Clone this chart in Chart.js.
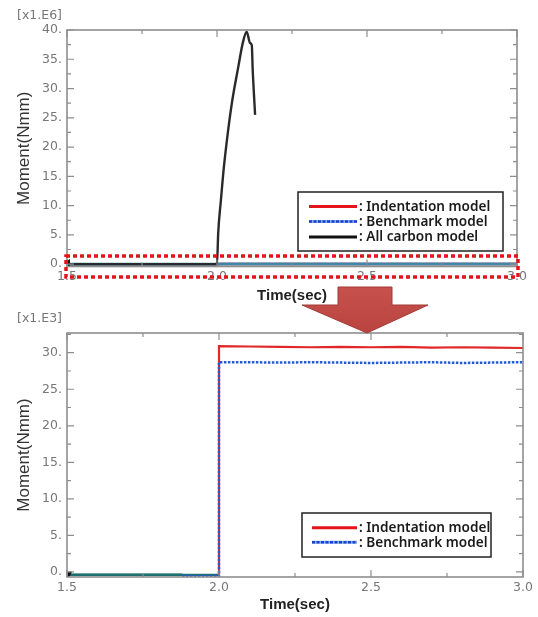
<!DOCTYPE html>
<html>
<head>
<meta charset="utf-8">
<script src="https://cdn.jsdelivr.net/npm/chart.js@4.4.0/dist/chart.umd.min.js"></script>
<style>
  body { margin: 0; background: #fff; }
  #wrap { position: relative; width: 538px; height: 617px; overflow: hidden; }
  canvas { position: absolute; left: 0; }
  #topChart { top: 0; }
  #bottomChart { top: 305px; }
  #arrow { position: absolute; left: 0; top: 0; pointer-events: none; }
</style>
</head>
<body>
<div id="wrap">
  <canvas id="topChart" width="538" height="305"></canvas>
  <canvas id="bottomChart" width="538" height="312"></canvas>
  <!-- the big arrow between the two plots -->
  <svg id="arrow" width="538" height="617">
    <defs>
      <linearGradient id="arrowFill" x1="0" y1="0" x2="0" y2="1">
        <stop offset="0" stop-color="#c6514d"/>
        <stop offset="1" stop-color="#b8433f"/>
      </linearGradient>
    </defs>
    <polygon points="338,287 392,287 392,305 428,305 367,333 302,305 338,305"
             fill="url(#arrowFill)" stroke="#a33a36" stroke-width="1"/>
  </svg>
</div>
<script>
// ---- shared axis values ----
const xTicks = [1.5, 2.0, 2.5, 3.0];
const xMinorTicks = [1.75, 2.25, 2.75];

// ---- top plot, moment in x1.E6 Nmm ----
const topYTicks = [0, 5, 10, 15, 20, 25, 30, 35, 40];
const topYMinor = [2.5, 7.5, 12.5, 17.5, 22.5, 27.5, 32.5, 37.5];

const carbonTime   = [1.5, 2.0, 2.004, 2.013, 2.023, 2.036, 2.051, 2.071, 2.086, 2.099, 2.110, 2.116, 2.119, 2.123, 2.127];
const carbonMoment = [0,   0,   5.3,   10.9,  16.6,  22.4,  28.0,  33.7,  37.8,  39.7,  37.8,  37.4,  33.2,  29.2,  25.5];

const topIndentTime   = [1.5, 2.0, 2.0, 3.0];
const topIndentMoment = [0,   0,   0.031, 0.031];
const topBenchTime    = [1.5, 2.0, 2.0, 3.0];
const topBenchMoment  = [0,   0,   0.029, 0.029];

// ---- bottom plot, moment in x1.E3 Nmm ----
const bottomYTicks = [0, 5, 10, 15, 20, 25, 30];
const bottomYMinor = [2.5, 7.5, 12.5, 17.5, 22.5, 27.5, 32.5];

const indentTime   = [1.5,  2.0,  2.0,  2.1,   2.2,  2.3,   2.4,  2.5,  2.6,   2.7,  2.8,   2.9,  3.0];
const indentMoment = [-0.4, -0.4, 30.9, 30.85, 30.8, 30.75, 30.8, 30.75, 30.8, 30.7, 30.75, 30.7, 30.65];

const benchTime   = [1.5,  1.88, 1.885, 2.0,  2.0,  2.1,  2.2,   2.3,  2.4,   2.5,  2.6,   2.7,  2.8,   2.9,  3.0];
const benchMoment = [-0.4, -0.4, -0.6,  -0.6, 28.7, 28.7, 28.65, 28.7, 28.65, 28.6, 28.65, 28.7, 28.6,  28.65, 28.7];

const toXY = (xs, ys) => xs.map((x, i) => ({ x: x, y: ys[i] }));

// Plot frame with inward tick marks on all four sides
const framePlugin = {
  id: 'frame',
  afterDatasetsDraw(chart, args, opts) {
    const { ctx, chartArea: a, scales: { x, y } } = chart;
    ctx.save();
    ctx.strokeStyle = '#8e8e8e';
    ctx.lineWidth = 1.2;
    ctx.beginPath();
    const xMark = (vals, len) => vals.forEach(v => {
      const px = x.getPixelForValue(v);
      ctx.moveTo(px, a.top); ctx.lineTo(px, a.top + len);
      ctx.moveTo(px, a.bottom); ctx.lineTo(px, a.bottom - len);
    });
    const yMark = (vals, len) => vals.forEach(v => {
      const py = y.getPixelForValue(v);
      ctx.moveTo(a.left, py); ctx.lineTo(a.left + len, py);
      ctx.moveTo(a.right, py); ctx.lineTo(a.right - len, py);
    });
    xMark(xTicks, 7); xMark(xMinorTicks, 4);
    yMark(opts.major, 7); yMark(opts.minor, 4);
    ctx.stroke();
    ctx.lineWidth = 1.6;
    ctx.strokeRect(a.left, a.top, a.right - a.left, a.bottom - a.top);
    // exponent label above the y ticks
    ctx.fillStyle = '#777';
    ctx.font = '12.5px "DejaVu Sans"';
    ctx.textAlign = 'right';
    ctx.textBaseline = 'middle';
    ctx.fillText(opts.exponent, a.left - 5, a.top - 14);
    ctx.restore();
  }
};

// Boxed legend drawn inside the plot, like the solver output
const boxLegendPlugin = {
  id: 'boxLegend',
  afterDraw(chart, args, opts) {
    const { ctx } = chart;
    const [x0, y0, x1, y1] = opts.box;
    ctx.save();
    ctx.fillStyle = '#fff';
    ctx.fillRect(x0, y0, x1 - x0, y1 - y0);
    ctx.strokeStyle = '#222';
    ctx.lineWidth = 1.5;
    ctx.strokeRect(x0, y0, x1 - x0, y1 - y0);
    opts.entries.forEach((e, i) => {
      const ry = opts.rowY[i];
      if (e.under) {
        ctx.strokeStyle = e.under;
        ctx.lineWidth = 3;
        ctx.setLineDash([]);
        ctx.beginPath(); ctx.moveTo(opts.lineX[0], ry); ctx.lineTo(opts.lineX[1], ry); ctx.stroke();
      }
      ctx.strokeStyle = e.color;
      ctx.lineWidth = e.width;
      ctx.setLineDash(e.dash || []);
      ctx.beginPath(); ctx.moveTo(opts.lineX[0], ry); ctx.lineTo(opts.lineX[1], ry); ctx.stroke();
      ctx.fillStyle = '#1a1a1a';
      ctx.font = '600 13.6px "Noto Sans"';
      ctx.textAlign = 'left';
      ctx.textBaseline = 'middle';
      ctx.fillText(': ' + e.label, opts.lineX[1] + 2, ry + 0.5);
    });
    ctx.restore();
  }
};

// Red dotted box marking the zoomed region in the top plot
const zoomBoxPlugin = {
  id: 'zoomBox',
  afterDraw(chart, args, opts) {
    const { ctx, chartArea: a } = chart;
    ctx.save();
    ctx.strokeStyle = '#e2141b';
    ctx.lineWidth = 3.5;
    ctx.setLineDash([4, 3]);
    ctx.strokeRect(a.left - 1, opts.top, a.right - a.left + 2, opts.bottom - opts.top);
    ctx.restore();
  }
};

function axes(yMin, yMax, yTicks, xHeight, titlePad) {
  return {
    x: {
      type: 'linear', min: 1.5, max: 3.0,
      afterBuildTicks: s => { s.ticks = xTicks.map(v => ({ value: v })); },
      afterFit: s => { s.height = xHeight; },
      grid: { display: false, drawTicks: false },
      border: { display: false },
      ticks: { padding: 3, color: '#777', font: { family: 'DejaVu Sans', size: 12.5 },
               callback: v => v.toFixed(1) },
      title: { display: true, text: 'Time(sec)', color: '#222', padding: { top: 0, bottom: titlePad },
               font: { family: 'Liberation Sans', size: 15, weight: 'bold' } }
    },
    y: {
      type: 'linear', min: yMin, max: yMax,
      afterBuildTicks: s => { s.ticks = yTicks.map(v => ({ value: v })); },
      afterFit: s => { s.width = 67; },
      grid: { display: false, drawTicks: false },
      border: { display: false },
      ticks: { padding: 5, color: '#777', font: { family: 'DejaVu Sans', size: 12.5 },
               callback: v => v + '.' },
      title: { display: true, text: 'Moment(Nmm)', color: '#333', padding: { top: 14, bottom: 0 },
               font: { family: 'Liberation Sans', size: 17 } }
    }
  };
}

const startMarker = rot => ({
  pointRadius: c => c.dataIndex === 0 ? 3.5 : 0,
  pointStyle: 'triangle',
  rotation: rot,
  pointBackgroundColor: '#111',
  pointBorderColor: '#111'
});

new Chart(document.getElementById('topChart'), {
  type: 'line',
  data: {
    datasets: [
      Object.assign({ label: 'All carbon model', data: toXY(carbonTime, carbonMoment), borderColor: '#2a2a2a',
        borderWidth: 2.4, cubicInterpolationMode: 'monotone', order: 0 }, startMarker(270)),
      { label: 'Benchmark model', data: toXY(topBenchTime, topBenchMoment), borderColor: '#3f86a9',
        borderWidth: 3, pointRadius: 0, order: 1 },
      { label: 'Indentation model', data: toXY(topIndentTime, topIndentMoment), borderColor: '#e02020',
        borderWidth: 2.5, pointRadius: 0, order: 2 }
    ]
  },
  options: {
    responsive: false, animation: false,
    layout: { padding: { top: 30, right: 21, left: 0, bottom: 0 } },
    scales: axes(-0.4, 40, topYTicks, 38.5, 0),
    plugins: {
      legend: { display: false }, tooltip: { enabled: false },
      frame: { major: topYTicks, minor: topYMinor, exponent: '[x1.E6]' },
      zoomBox: { top: 256, bottom: 277 },
      boxLegend: {
        box: [298, 192, 503, 251], rowY: [206.5, 221.5, 237], lineX: [309, 357],
        entries: [
          { label: 'Indentation model', color: '#e5141b', width: 3 },
          { label: 'Benchmark model', color: '#1f3fd0', width: 2.5, dash: [3, 1.5], under: '#7fb0ee' },
          { label: 'All carbon model', color: '#111', width: 3 }
        ]
      }
    }
  },
  plugins: [framePlugin, zoomBoxPlugin, boxLegendPlugin]
});

new Chart(document.getElementById('bottomChart'), {
  type: 'line',
  data: {
    datasets: [
      Object.assign({ label: 'Benchmark model', data: toXY(benchTime, benchMoment), borderColor: '#2659d6',
        borderWidth: 2.5, borderDash: [2.5, 1.5], order: 0,
        segment: {
          borderColor: c => c.p0.parsed.x < 1.88 ? '#1f6f70' : undefined,
          borderDash: c => c.p0.parsed.x < 1.88 ? [] : undefined
        } }, startMarker(180)),
      { label: 'Indentation model', data: toXY(indentTime, indentMoment), borderColor: '#e02828',
        borderWidth: 2.2, pointRadius: 0, order: 1,
        segment: { borderColor: c => c.p1.parsed.x <= 2.0 && c.p0.parsed.x < 2.0 && c.p1.parsed.y < 1 ? '#1f6f70' : undefined } }
    ]
  },
  options: {
    responsive: false, animation: false,
    layout: { padding: { top: 28, right: 15, left: 0, bottom: 0 } },
    scales: axes(-0.7, 32.7, bottomYTicks, 40, 3),
    plugins: {
      legend: { display: false }, tooltip: { enabled: false },
      frame: { major: bottomYTicks, minor: bottomYMinor, exponent: '[x1.E3]' },
      boxLegend: {
        box: [302, 208, 491, 252], rowY: [222.7, 237.3], lineX: [312, 357],
        entries: [
          { label: 'Indentation model', color: '#e5141b', width: 3 },
          { label: 'Benchmark model', color: '#1f3fd0', width: 2.5, dash: [3, 1.5], under: '#7fb0ee' }
        ]
      }
    }
  },
  plugins: [framePlugin, boxLegendPlugin]
});
</script>
</body>
</html>
